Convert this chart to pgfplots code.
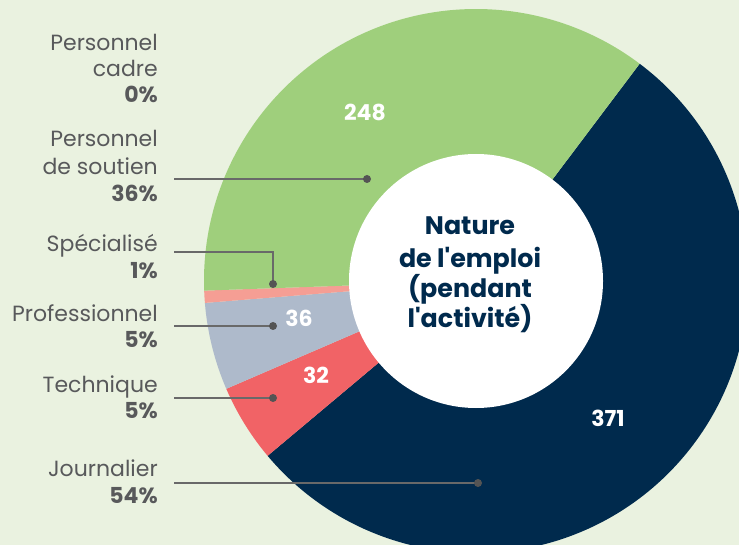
\documentclass[border=0pt]{standalone}
\usepackage{pgfplots}
\pgfplotsset{compat=1.18}
\usepackage{pgfplotstable}
\usepackage{fontspec}
\setmainfont{Poppins}
\definecolor{bg}{RGB}{234,242,224}
\definecolor{cnavy}{RGB}{0,42,77}
\definecolor{cgreen}{RGB}{159,207,124}
\definecolor{cred}{RGB}{241,99,102}
\definecolor{cgray}{RGB}{174,186,203}
\definecolor{cpink}{RGB}{245,158,148}
\definecolor{ctext}{RGB}{88,89,91}
\definecolor{cline}{RGB}{105,105,105}
\pgfplotstableread{
cat value
Journalier 371
Technique 32
Professionnel 36
Specialise 5
Soutien 248
Cadre 0
}\datatable
\pgfplotstablegetelem{0}{value}\of\datatable\let\vA\pgfplotsretval
\pgfplotstablegetelem{1}{value}\of\datatable\let\vB\pgfplotsretval
\pgfplotstablegetelem{2}{value}\of\datatable\let\vC\pgfplotsretval
\pgfplotstablegetelem{3}{value}\of\datatable\let\vD\pgfplotsretval
\pgfplotstablegetelem{4}{value}\of\datatable\let\vE\pgfplotsretval
\pgfplotstablegetelem{5}{value}\of\datatable\let\vF\pgfplotsretval
\pgfmathsetmacro\tot{\vA+\vB+\vC+\vD+\vE+\vF}
\pgfmathsetmacro\aA{53}
\pgfmathsetmacro\aB{\aA-360*(\vA/\tot)}
\pgfmathsetmacro\aC{\aB-360*(\vB/\tot)}
\pgfmathsetmacro\aD{\aC-360*(\vC/\tot)}
\pgfmathsetmacro\aE{\aD-360*(\vD/\tot)}
\pgfmathsetmacro\aF{\aE-360*(\vE/\tot)}
\def\cx{476}\def\cy{281}\def\R{272}\def\r{127}
\newcommand\sector[3]{%
  \fill[#1] (axis cs:\cx,\cy) -- (axis cs:{\cx+\R*cos(#2)},{\cy-\R*sin(#2)})
    arc[start angle=#2,end angle=#3,radius=\R*0.75pt] -- cycle;}
\newcommand\lab[3]{\node[anchor=base east,inner sep=0pt,text=ctext,font=\fontsize{16.5}{19}\selectfont] at (axis cs:#1,#2) {#3};}
\newcommand\ctr[2]{\node[anchor=base,inner sep=0pt,text=cnavy,font=\fontsize{19}{22}\selectfont\bfseries] at (axis cs:470,#1) {#2};}
\newcommand\num[3]{\node[anchor=center,inner sep=0pt,text=white,font=\fontsize{16.5}{19}\selectfont\bfseries] at (axis cs:#1,#2) {#3};}
\begin{document}
\begin{tikzpicture}
\begin{axis}[x=0.75pt,y=0.75pt,y dir=reverse,xmin=0,xmax=739,ymin=0,ymax=545,
  hide axis,scale only axis,clip=true]
\coordinate (bl) at (axis cs:0,545);
\coordinate (tr) at (axis cs:739,0);
\fill[bg] (axis cs:0,0) rectangle (axis cs:739,545);
\sector{cnavy}{\aA}{\aB}
\sector{cred}{\aB}{\aC}
\sector{cgray}{\aC}{\aD}
\sector{cpink}{\aD}{\aE}
\sector{cgreen}{\aE}{\aF}
\fill[white] (axis cs:\cx,\cy) circle[radius=\r*0.75pt];
% leader lines
\draw[cline,line width=1pt] (axis cs:174,179) -- (axis cs:367,179);
\fill[cline!80!black] (axis cs:367,179) circle[radius=3pt];
\draw[cline,line width=1pt] (axis cs:174,252) -- (axis cs:273,252) -- (axis cs:273,284);
\fill[cline!80!black] (axis cs:273,284) circle[radius=3pt];
\draw[cline,line width=1pt] (axis cs:174,326) -- (axis cs:273,326);
\fill[cline!80!black] (axis cs:273,326) circle[radius=3pt];
\draw[cline,line width=1pt] (axis cs:174,398) -- (axis cs:273,398);
\fill[cline!80!black] (axis cs:273,398) circle[radius=3pt];
\draw[cline,line width=1pt] (axis cs:174,483) -- (axis cs:478,483);
\fill[cline!80!black] (axis cs:478,483) circle[radius=3pt];
% labels
\lab{158}{51}{Personnel}
\lab{158}{77}{cadre}
\lab{158}{103}{\bfseries 0\%}
\lab{158}{147}{Personnel}
\lab{158}{175}{de soutien}
\lab{158}{202}{\bfseries 36\%}
\lab{158}{252}{Spécialisé}
\lab{158}{279}{\bfseries 1\%}
\lab{158}{321}{Professionnel}
\lab{158}{348}{\bfseries 5\%}
\lab{158}{392}{Technique}
\lab{158}{418}{\bfseries 5\%}
\lab{158}{476}{Journalier}
\lab{158}{503}{\bfseries 54\%}
% center
\ctr{235}{Nature}
\ctr{268}{de l\textquotesingle emploi}
\ctr{298}{(pendant}
\ctr{328}{l\textquotesingle activité)}
% values
\num{365}{112}{248}
\num{299}{318}{36}
\num{316}{375}{32}
\num{608}{418}{371}
\end{axis}
\pgfresetboundingbox
\path (bl) rectangle (tr);
\end{tikzpicture}
\end{document}
